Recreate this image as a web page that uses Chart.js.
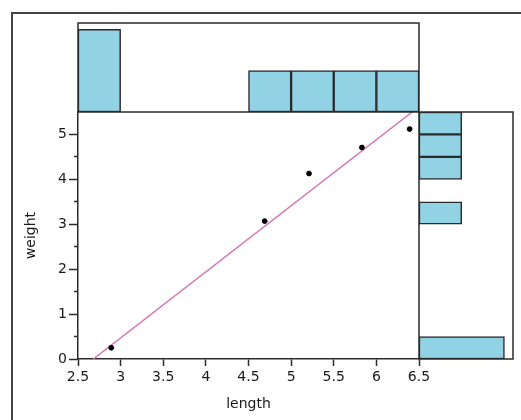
<!DOCTYPE html>
<html>
<head>
<meta charset="utf-8">
<script src="https://cdn.jsdelivr.net/npm/chart.js@4.4.0/dist/chart.umd.min.js"></script>
<style>
  body { margin: 0; background: #fff; }
  #wrap { position: relative; width: 521px; height: 420px; overflow: hidden; }
  #wrap canvas { position: absolute; left: 0; top: 0; }
  #frame { position: absolute; left: 11px; top: 12px; width: 530px; height: 430px;
           border-left: 2px solid #444; border-top: 2px solid #444; }
</style>
</head>
<body>
<div id="wrap">
  <div id="frame"></div>
  <canvas id="main" width="521" height="420"></canvas>
  <canvas id="histTop" width="521" height="420"></canvas>
  <canvas id="histRight" width="521" height="420"></canvas>
</div>
<script>
// 데이터
const lengths = [2.89, 4.69, 5.21, 5.83, 6.39];
const weights = [0.25, 3.07, 4.13, 4.71, 5.12];
const fitLine = [{ x: 2.68, y: 0 }, { x: 6.42, y: 5.5 }];

const lengthBins = ['2.5-3', '3-3.5', '3.5-4', '4-4.5', '4.5-5', '5-5.5', '5.5-6', '6-6.5'];
const lengthCounts = [2, 0, 0, 0, 1, 1, 1, 1];

// 위에서 아래로
const weightBins = ['5-5.5', '4.5-5', '4-4.5', '3.5-4', '3-3.5', '2.5-3', '2-2.5', '1.5-2', '1-1.5', '0.5-1', '0-0.5'];
const weightCounts = [1, 1, 1, 0, 1, 0, 0, 0, 0, 0, 2];

const ink = '#2b2b2b';
const barFill = '#92d2e5';
Chart.defaults.font.family = '"DejaVu Sans", sans-serif';
Chart.defaults.font.size = 14;
Chart.defaults.color = '#1a1a1a';
Chart.defaults.animation = false;

// 히스토그램 테두리
const boxPlugin = {
    id: 'box',
    afterDraw(chart) {
        const a = chart.chartArea;
        const ctx = chart.ctx;
        ctx.save();
        ctx.strokeStyle = ink;
        ctx.lineWidth = 1.5;
        ctx.strokeRect(a.left, a.top, a.right - a.left, a.bottom - a.top);
        ctx.restore();
    }
};

// 산점도
new Chart(document.getElementById('main'), {
    type: 'scatter',
    data: {
        datasets: [{
            data: lengths.map((x, i) => ({ x: x, y: weights[i] })),
            backgroundColor: '#000',
            borderColor: '#000',
            pointRadius: 2.4
        }, {
            type: 'line',
            data: fitLine,
            borderColor: '#d873b4',
            borderWidth: 1.5,
            pointRadius: 0
        }]
    },
    options: {
        responsive: false,
        layout: { padding: { left: 12, top: 112, right: 102, bottom: 0 } },
        plugins: { legend: { display: false }, tooltip: { enabled: false } },
        scales: {
            x: {
                type: 'linear',
                min: 2.5,
                max: 6.5,
                ticks: { stepSize: 0.5, padding: 3, callback: v => String(v) },
                grid: { drawOnChartArea: false, tickLength: 7, tickColor: ink, tickWidth: 1.5 },
                border: { color: ink, width: 1.5 },
                title: { display: true, text: 'length', padding: { top: 4, bottom: 7 } },
                afterFit: s => { s.height = 61; }
            },
            y: {
                type: 'linear',
                weight: 1,
                min: 0,
                max: 5.5,
                ticks: { stepSize: 1, padding: 2, callback: v => String(v) },
                afterBuildTicks: s => { s.ticks = s.ticks.filter(t => Number.isInteger(t.value)); },
                grid: { drawOnChartArea: false, tickLength: 9, tickColor: ink, tickWidth: 1.5 },
                border: { color: ink, width: 1.5 },
                title: { display: true, text: 'weight', padding: { top: 11, bottom: 0 } },
                afterFit: s => { s.width = 66; }
            },
            yMinor: {
                type: 'linear',
                position: 'left',
                weight: 0,
                min: 0,
                max: 5.5,
                ticks: { stepSize: 0.5, display: false },
                afterBuildTicks: s => {
                    s.ticks = s.ticks.filter(t => !Number.isInteger(t.value) && t.value < 5.5);
                },
                grid: { drawOnChartArea: false, tickLength: 4, tickColor: ink, tickWidth: 1.5 },
                border: { display: false },
                afterFit: s => { s.width = 0; }
            }
        }
    }
});

// 길이 히스토그램
new Chart(document.getElementById('histTop'), {
    type: 'bar',
    data: {
        labels: lengthBins,
        datasets: [{
            data: lengthCounts,
            backgroundColor: barFill,
            borderColor: ink,
            borderWidth: 1.5,
            borderSkipped: false,
            categoryPercentage: 1,
            barPercentage: 1
        }]
    },
    options: {
        responsive: false,
        layout: { padding: { left: 78, top: 23, right: 102, bottom: 308 } },
        plugins: { legend: { display: false }, tooltip: { enabled: false } },
        scales: {
            x: { display: false },
            y: { display: false, min: 0, max: 2.15 }
        }
    },
    plugins: [boxPlugin]
});

// 무게 히스토그램
new Chart(document.getElementById('histRight'), {
    type: 'bar',
    data: {
        labels: weightBins,
        datasets: [{
            data: weightCounts,
            backgroundColor: barFill,
            borderColor: ink,
            borderWidth: 1.5,
            borderSkipped: false,
            categoryPercentage: 1,
            barPercentage: 1
        }]
    },
    options: {
        responsive: false,
        indexAxis: 'y',
        layout: { padding: { left: 419, top: 112, right: 8, bottom: 61 } },
        plugins: { legend: { display: false }, tooltip: { enabled: false } },
        scales: {
            y: { display: false },
            x: { display: false, min: 0, max: 2.2 }
        }
    },
    plugins: [boxPlugin]
});
</script>
</body>
</html>
